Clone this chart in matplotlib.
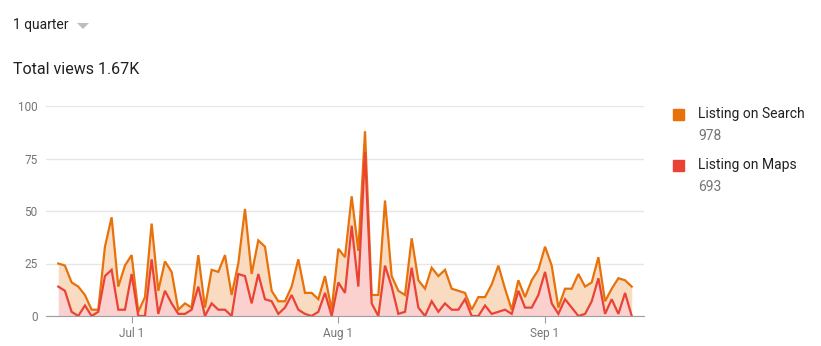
import numpy as np
import pandas as pd
import matplotlib
matplotlib.use("Agg")
import matplotlib.pyplot as plt
import matplotlib.dates as mdates
from matplotlib.patches import Rectangle, Polygon

plt.rcParams['font.family'] = ['Roboto', 'DejaVu Sans']

# Daily views, Jun 20 .. Sep 14
dates = pd.date_range("2019-06-20", "2019-09-14", freq="D")
maps = [14, 12, 2, 0, 5, 0, 2, 19, 22, 3, 3, 20, 0, 0,
        27, 1, 12, 6, 1, 1, 3, 14, 0, 6, 3, 3, 0, 20,
        19, 6, 20, 8, 7, 1, 4, 10, 3, 1, 0, 2, 11, 0, 16,
        11, 43, 14, 78, 6, 0, 24, 14, 1, 2, 23, 4, 0, 7,
        2, 6, 3, 3, 8, 0, 0, 5, 1, 2, 3, 1, 12, 4,
        4, 10, 21, 6, 1, 8, 4, 0, 1, 7, 18, 1, 8, 1, 11, 0]
search = [11, 12, 14, 14, 5, 3, 1, 14, 25, 11, 21, 9, 2, 9,
          17, 11, 14, 15, 2, 5, 1, 15, 4, 16, 18, 26, 10, 5,
          32, 14, 16, 25, 5, 6, 3, 4, 24, 10, 11, 6, 8, 3, 16,
          17, 14, 17, 10, 4, 10, 31, 5, 11, 8, 14, 13, 13, 16,
          17, 16, 10, 9, 3, 3, 9, 4, 14, 22, 10, 2, 5, 5,
          13, 12, 12, 18, 3, 5, 9, 20, 13, 9, 10, 6, 5, 17, 6, 14]
series_names = ["Listing on Search", "Listing on Maps"]
series_totals = ["978", "693"]
yticks = [0, 25, 50, 75, 100]

c_search = '#e8710a'
c_maps = '#ea4335'

fig = plt.figure(figsize=(8.21, 3.46), dpi=100)
ax = fig.add_axes([46 / 821, 1 - 316 / 346, 598 / 821, 210 / 346])

maps = np.array(maps)
total = maps + np.array(search)

ax.fill_between(dates, maps, total, color='#f9dbc2', lw=0)
ax.fill_between(dates, 0, maps, color='#fad1ce', lw=0)
ax.plot(dates, total, color=c_search, lw=1.6, solid_joinstyle='miter')
ax.plot(dates, maps, color=c_maps, lw=1.6, solid_joinstyle='miter')

pad = pd.Timedelta(days=1.84)
ax.set_xlim(dates[0] - pad, dates[-1] + pad)
ax.set_ylim(0, 100)
ax.set_yticks(yticks)
ax.set_yticklabels([str(t) for t in yticks])
ax.grid(axis='y', color='#e6e6e6', lw=1)
ax.set_axisbelow(True)

ax.xaxis.set_major_locator(mdates.MonthLocator(bymonthday=1))
ax.xaxis.set_major_formatter(mdates.DateFormatter('%b %-d'))

for s in ['top', 'right', 'left']:
    ax.spines[s].set_visible(False)
ax.spines['bottom'].set_color('#9e9e9e')
ax.spines['bottom'].set_zorder(5)
ax.tick_params(axis='y', length=0, pad=6, labelsize=8.5, labelcolor='#757575')
ax.tick_params(axis='x', length=5, color='#9e9e9e', pad=3, labelsize=8.5,
               labelcolor='#757575')

# header texts
fig.text(13 / 821, 1 - 25 / 346, "1 quarter", fontsize=10, color='#212121',
         va='center', ha='left')
tri = Polygon([[77 / 821, 1 - 23 / 346], [89 / 821, 1 - 23 / 346],
               [83 / 821, 1 - 29 / 346]], closed=True, transform=fig.transFigure,
              color='#bdbdbd', lw=0)
fig.patches.append(tri)
fig.text(13 / 821, 1 - 70 / 346, "Total views 1.67K", fontsize=11.5,
         color='#212121', va='center', ha='left')

# legend
for k, (name, tot, col) in enumerate(zip(series_names, series_totals, [c_search, c_maps])):
    y0 = 114 + 51 * k
    fig.patches.append(Rectangle((673 / 821, 1 - (y0 + 6) / 346), 11 / 821, 11 / 346,
                                 transform=fig.transFigure, color=col))
    fig.text(698 / 821, 1 - y0 / 346, name, fontsize=10, color='#212121',
             va='center', ha='left')
    fig.text(698 / 821, 1 - (y0 + 22) / 346, tot, fontsize=10, color='#757575',
             va='center', ha='left')

fig.savefig("out.png", dpi=100)
